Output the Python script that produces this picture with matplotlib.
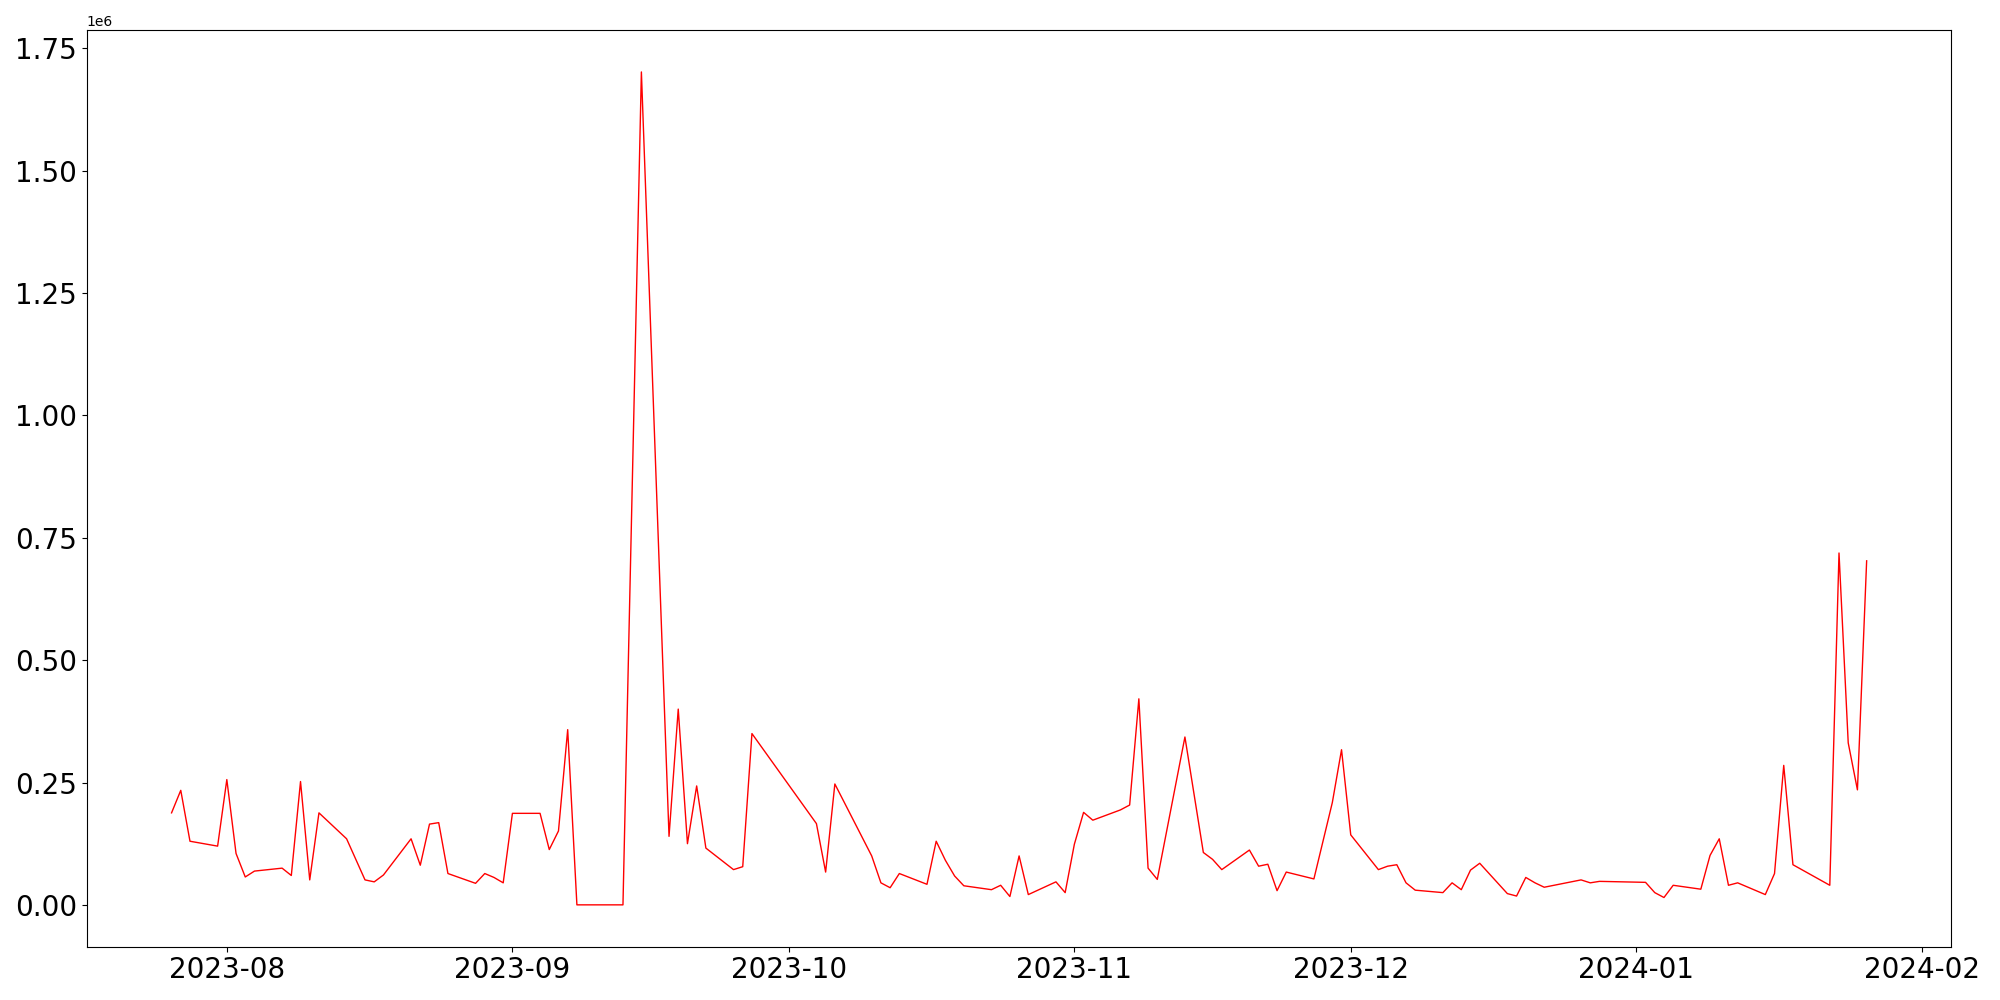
import matplotlib
matplotlib.use("Agg")
import matplotlib.pyplot as plt
import pandas as pd

# trading days (weekends / holidays absent)
dates = [
    "2023-07-26", "2023-07-27", "2023-07-28", "2023-07-31",
    "2023-08-01", "2023-08-02", "2023-08-03", "2023-08-04",
    "2023-08-07", "2023-08-08", "2023-08-09", "2023-08-10", "2023-08-11",
    "2023-08-14", "2023-08-16", "2023-08-17", "2023-08-18",
    "2023-08-21", "2023-08-22", "2023-08-23", "2023-08-24", "2023-08-25",
    "2023-08-28", "2023-08-29", "2023-08-30", "2023-08-31", "2023-09-01",
    "2023-09-04", "2023-09-05", "2023-09-06", "2023-09-07", "2023-09-08",
    "2023-09-11", "2023-09-12", "2023-09-13", "2023-09-15",
    "2023-09-18", "2023-09-19", "2023-09-20", "2023-09-21", "2023-09-22",
    "2023-09-25", "2023-09-26", "2023-09-27",
    "2023-10-04", "2023-10-05", "2023-10-06",
    "2023-10-10", "2023-10-11", "2023-10-12", "2023-10-13",
    "2023-10-16", "2023-10-17", "2023-10-18", "2023-10-19", "2023-10-20",
    "2023-10-23", "2023-10-24", "2023-10-25", "2023-10-26", "2023-10-27",
    "2023-10-30", "2023-10-31", "2023-11-01", "2023-11-02", "2023-11-03",
    "2023-11-06", "2023-11-07", "2023-11-08", "2023-11-09", "2023-11-10",
    "2023-11-13", "2023-11-15", "2023-11-16", "2023-11-17",
    "2023-11-20", "2023-11-21", "2023-11-22", "2023-11-23", "2023-11-24",
    "2023-11-27", "2023-11-29", "2023-11-30", "2023-12-01",
    "2023-12-04", "2023-12-05", "2023-12-06", "2023-12-07", "2023-12-08",
    "2023-12-11", "2023-12-12", "2023-12-13", "2023-12-14", "2023-12-15",
    "2023-12-18", "2023-12-19", "2023-12-20", "2023-12-21", "2023-12-22",
    "2023-12-26", "2023-12-27", "2023-12-28",
    "2024-01-02", "2024-01-03", "2024-01-04", "2024-01-05",
    "2024-01-08", "2024-01-09", "2024-01-10", "2024-01-11", "2024-01-12",
    "2024-01-15", "2024-01-16", "2024-01-17", "2024-01-18",
    "2024-01-22", "2024-01-23", "2024-01-24", "2024-01-25", "2024-01-26",
]

values = [
    188000, 234000, 130000, 120000,
    256000, 105000, 57000, 69000,
    75000, 60000, 252000, 51000, 188000,
    135000, 51000, 47000, 61000,
    135000, 81000, 165000, 168000, 64000,
    44000, 64000, 56000, 45000, 187000,
    187000, 113000, 151000, 358000, 0,
    0, 0, 0, 1702000,
    140000, 400000, 125000, 243000, 116000,
    72000, 78000, 350000,
    166000, 67000, 247000,
    100000, 45000, 35000, 64000,
    42000, 130000, 91000, 59000, 39000,
    31000, 40000, 17000, 100000, 21000,
    47000, 25000, 124000, 189000, 173000,
    194000, 204000, 421000, 75000, 52000,
    343000, 107000, 93000, 72000,
    112000, 79000, 83000, 29000, 67000,
    53000, 209000, 317000, 143000,
    72000, 79000, 82000, 45000, 30000,
    25000, 45000, 31000, 71000, 85000,
    23000, 18000, 56000, 45000, 36000,
    51000, 45000, 48000,
    46000, 25000, 15000, 40000,
    32000, 101000, 135000, 40000, 45000,
    21000, 64000, 285000, 82000,
    40000, 719000, 331000, 235000, 703000,
]


def main() -> None:
    x = pd.to_datetime(dates)

    fig, ax = plt.subplots(figsize=(20, 10), dpi=100)
    ax.plot(x, values, color="red", linewidth=1)
    ax.tick_params(axis="both", labelsize=20)
    fig.subplots_adjust(left=0.0434, right=0.9757, top=0.9697, bottom=0.0535)
    fig.savefig("out.png", dpi=100)


if __name__ == "__main__":
    main()
